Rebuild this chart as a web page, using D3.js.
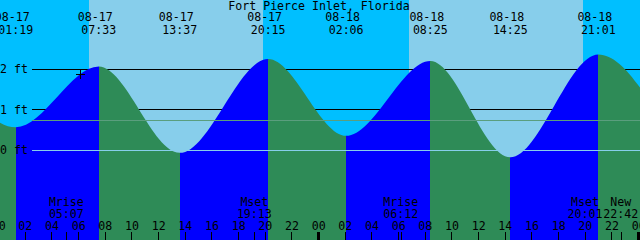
<!DOCTYPE html>
<html><head><meta charset="utf-8">
<script src="https://cdn.jsdelivr.net/npm/d3@7"></script>
<style>
html,body{margin:0;padding:0;background:#fff;overflow:hidden}
svg{display:block}
text{font-family:"DejaVu Sans Mono",monospace;font-size:11.6px;fill:#000}
</style>
</head><body><svg id="c" width="640" height="240"></svg>
<script>
// ---------- data ----------
const title = "Fort Pierce Inlet, Florida";
// high / low tide events shown on the chart
const tideDays    = [0, 0, 0, 0, 1, 1, 1, 1];
const tideDates   = ["08-17","08-17","08-17","08-17","08-18","08-18","08-18","08-18"];
const tideTimes   = ["01:19","07:33","13:37","20:15","02:06","08:25","14:25","21:01"];
const tideTypes   = ["L","H","L","H","L","H","L","H"];
const tideHeights = [0.56, 2.06, -0.07, 2.25, 0.35, 2.20, -0.18, 2.36];
// tide turns just outside the window (estimated from the curve at the edges)
const edgeDays    = [-1, 2];
const edgeTimes   = ["19:54","02:24"];
const edgeHeights = [2.3, 0.35];
// sun
const sunriseTimes = ["06:51","06:51"];
const sunsetTimes  = ["19:51","19:50"];
// moon events
const moonLabels = ["Mrise","Mset","Mrise","Mset","New"];
const moonDays   = [0, 0, 1, 1, 1];
const moonTimes  = ["05:07","19:13","06:12","20:01","22:42"];
// axes
const heightTicks = [0, 1, 2];
const heightTickLabels = ["0 ft","1 ft","2 ft"];
const hourTicks = d3.range(0, 49, 2);
const hourTickLabels = ["00","02","04","06","08","10","12","14","16","18","20","22"];
const meanLevel = 0.74;
const markerHour = 6.14, markerHeight = 1.87;

// ---------- helpers ----------
const toH = (s, day) => { const [h, m] = s.split(":").map(Number); return day * 24 + h + m / 60; };

const W = 640, H = 240;
const x = d3.scaleLinear().domain([0.14, 48.14]).range([0, 640]);
const y = d3.scaleLinear().domain([0, 2]).range([150, 69]);
const px = v => Math.floor(v) + 0.5;

const svg = d3.select("#c");

// sky: night then day
svg.append("rect").attr("x", 0).attr("y", 0).attr("width", W).attr("height", H).attr("fill", "#00BFFF");
svg.selectAll("rect.day").data(sunriseTimes).join("rect").attr("class", "day")
  .attr("x", (d, i) => x(toH(d, i)))
  .attr("y", 0)
  .attr("width", (d, i) => x(toH(sunsetTimes[i], i)) - x(toH(d, i)))
  .attr("height", H)
  .attr("fill", "#87CEEB").attr("shape-rendering", "crispEdges");

// black height lines (behind the water)
svg.selectAll("line.hl").data(heightTicks.filter(d => d > 0)).join("line").attr("class", "hl")
  .attr("x1", 32).attr("x2", W)
  .attr("y1", d => px(y(d))).attr("y2", d => px(y(d)))
  .attr("stroke", "#000").attr("stroke-width", 1);

// water area through the tide turns
const pts = [
  [toH(edgeTimes[0], edgeDays[0]), edgeHeights[0]],
  ...tideTimes.map((t, i) => [toH(t, tideDays[i]), tideHeights[i]]),
  [toH(edgeTimes[1], edgeDays[1]), edgeHeights[1]]
];
const area = d3.area().x(d => x(d[0])).y0(H).y1(d => y(d[1])).curve(d3.curveMonotoneX);
svg.append("clipPath").attr("id", "water").append("path").attr("d", area(pts));

const evX = tideTimes.map((t, i) => x(toH(t, tideDays[i])));
const bounds = [0, ...evX, W];
const segColors = [tideTypes[0] === "L" ? "#2E8B57" : "#0000FF", ...tideTypes.map(t => t === "L" ? "#0000FF" : "#2E8B57")];
const g = svg.append("g").attr("clip-path", "url(#water)");
g.selectAll("rect").data(segColors).join("rect")
  .attr("x", (d, i) => bounds[i]).attr("y", 0)
  .attr("width", (d, i) => bounds[i + 1] - bounds[i]).attr("height", H)
  .attr("fill", d => d).attr("shape-rendering", "crispEdges");

// mean level and zero line over the water
svg.append("line").attr("x1", 32).attr("x2", W)
  .attr("y1", px(y(meanLevel))).attr("y2", px(y(meanLevel)))
  .attr("stroke", "#5A9E7E").attr("stroke-width", 1);
svg.append("line").attr("x1", 32).attr("x2", W)
  .attr("y1", px(y(0))).attr("y2", px(y(0)))
  .attr("stroke", "#87CEEB").attr("stroke-width", 1);

// height labels
svg.selectAll("text.hlab").data(heightTicks).join("text").attr("class", "hlab")
  .attr("x", 0).attr("y", d => y(d) + 4)
  .text((d, i) => heightTickLabels[i]);

// title
svg.append("text").attr("x", 319).attr("y", 9.5).attr("text-anchor", "middle").text(title);

// tide labels
svg.selectAll("text.td").data(tideDates).join("text").attr("class", "td")
  .attr("x", (d, i) => evX[i] - 3.5).attr("y", 21).attr("text-anchor", "middle").text(d => d);
svg.selectAll("text.tt").data(tideTimes).join("text").attr("class", "tt")
  .attr("x", (d, i) => evX[i]).attr("y", 34).attr("text-anchor", "middle").text(d => d);

// current-time marker
const mx = Math.round(x(markerHour)) + 0.5, my = Math.round(y(markerHeight)) + 0.5;
svg.append("path").attr("d", `M${mx - 4.5},${my}H${mx + 4.5}M${mx},${my - 4.5}V${my + 4.5}`)
  .attr("stroke", "#000").attr("stroke-width", 1).attr("fill", "none").attr("shape-rendering", "crispEdges");

// moon labels
const moonX = moonTimes.map((t, i) => x(toH(t, moonDays[i])));
svg.selectAll("text.ml").data(moonLabels).join("text").attr("class", "ml")
  .attr("x", (d, i) => moonX[i]).attr("y", 206).attr("text-anchor", "middle").text(d => d);
svg.selectAll("text.mt").data(moonTimes).join("text").attr("class", "mt")
  .attr("x", (d, i) => moonX[i]).attr("y", 217.5).attr("text-anchor", "middle").text(d => d);

// hour axis (labels above ticks)
const hourAxis = d3.axisTop(x).tickValues(hourTicks).tickSize(8).tickPadding(2)
  .tickFormat(d => hourTickLabels[(d % 24) / 2]);
const ax = svg.append("g").attr("transform", `translate(0,${H})`).call(hourAxis);
ax.select(".domain").remove();
ax.attr("font-family", null).attr("font-size", null);
ax.selectAll("line").attr("stroke", "#000").attr("shape-rendering", "crispEdges")
  .attr("stroke-width", d => d % 24 === 0 ? 3 : 1);
ax.selectAll("text").attr("fill", "#000");

// moon event ticks
const moonAxis = d3.axisTop(x).tickValues(moonTimes.map((t, i) => toH(t, moonDays[i]))).tickSize(8).tickFormat(() => "");
const mAx = svg.append("g").attr("transform", `translate(0,${H})`).call(moonAxis);
mAx.select(".domain").remove();
mAx.selectAll("line").attr("stroke", "#000").attr("shape-rendering", "crispEdges");
</script>
</body></html>
